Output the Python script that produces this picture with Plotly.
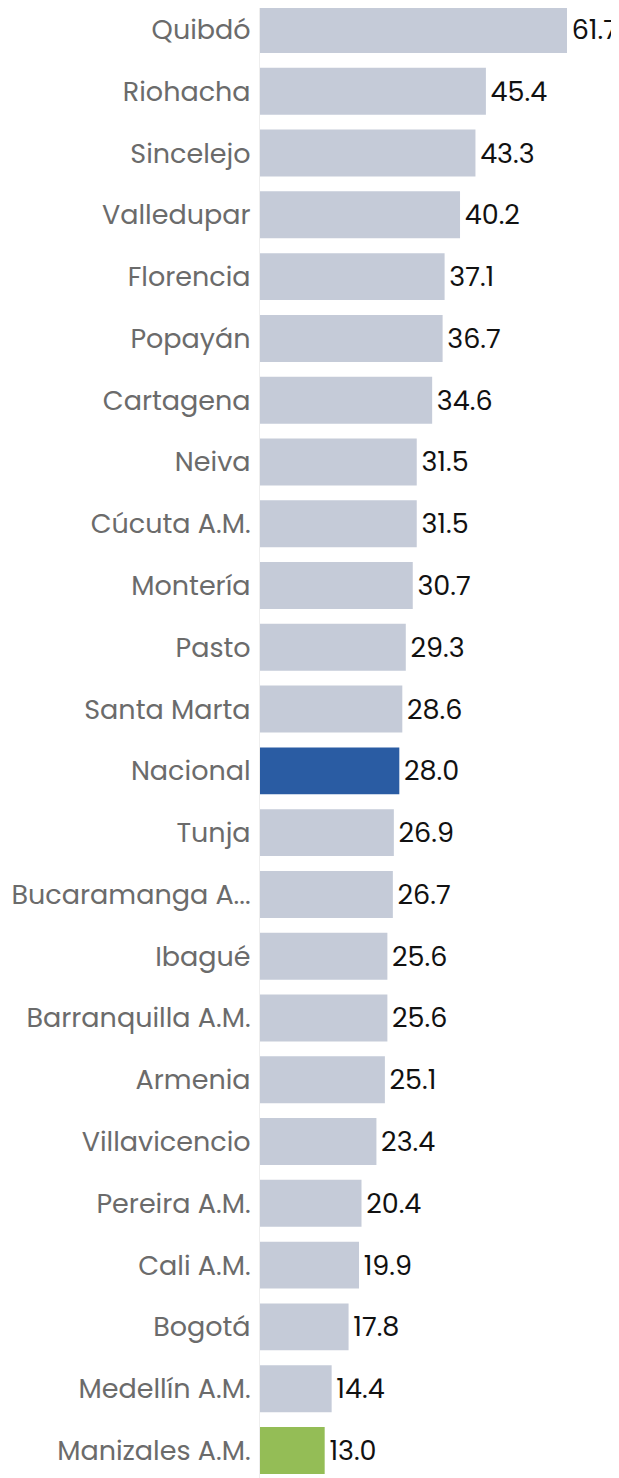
import plotly.graph_objects as go

categories = ["Quibdó", "Riohacha", "Sincelejo", "Valledupar", "Florencia", "Popayán",
              "Cartagena", "Neiva", "Cúcuta A.M.", "Montería", "Pasto", "Santa Marta",
              "Nacional", "Tunja", "Bucaramanga A...", "Ibagué", "Barranquilla A.M.",
              "Armenia", "Villavicencio", "Pereira A.M.", "Cali A.M.", "Bogotá",
              "Medellín A.M.", "Manizales A.M."]
values = [61.7, 45.4, 43.3, 40.2, 37.1, 36.7, 34.6, 31.5, 31.5, 30.7, 29.3, 28.6,
          28.0, 26.9, 26.7, 25.6, 25.6, 25.1, 23.4, 20.4, 19.9, 17.8, 14.4, 13.0]

GRAY = "#c5cbd8"
BLUE = "#2a5ca3"
GREEN = "#94bd56"
colors = [BLUE if c == "Nacional" else GREEN if c == "Manizales A.M." else GRAY for c in categories]

FONT = "Poppins, Open Sans, sans-serif"

fig = go.Figure(go.Bar(
    x=values,
    y=list(range(len(categories))),
    orientation="h",
    marker=dict(color=colors, line=dict(width=0)),
    text=["\u200a" + f"{v:.1f}" for v in values],
    textposition="outside",
    textfont=dict(family=FONT, size=27, color="#111111"),
    cliponaxis=False,
    hoverinfo="skip",
))

fig.update_layout(
    width=611, height=1470,
    margin=dict(l=252, r=0, t=0, b=0),
    paper_bgcolor="white", plot_bgcolor="white",
    bargap=0.24,
    showlegend=False,
    xaxis=dict(range=[0, 72.15], visible=False, showgrid=False, zeroline=False),
    yaxis=dict(
        tickmode="array",
        tickvals=list(range(len(categories))),
        ticktext=categories,
        range=[23.446, -0.348],
        showgrid=False, zeroline=False,
        showline=True, linecolor="#eeeeee", linewidth=1,
        ticks="", ticklabelstandoff=3,
        tickfont=dict(family=FONT, size=27, color="#6b6b6b"),
    ),
)

fig.write_html("out.html")
